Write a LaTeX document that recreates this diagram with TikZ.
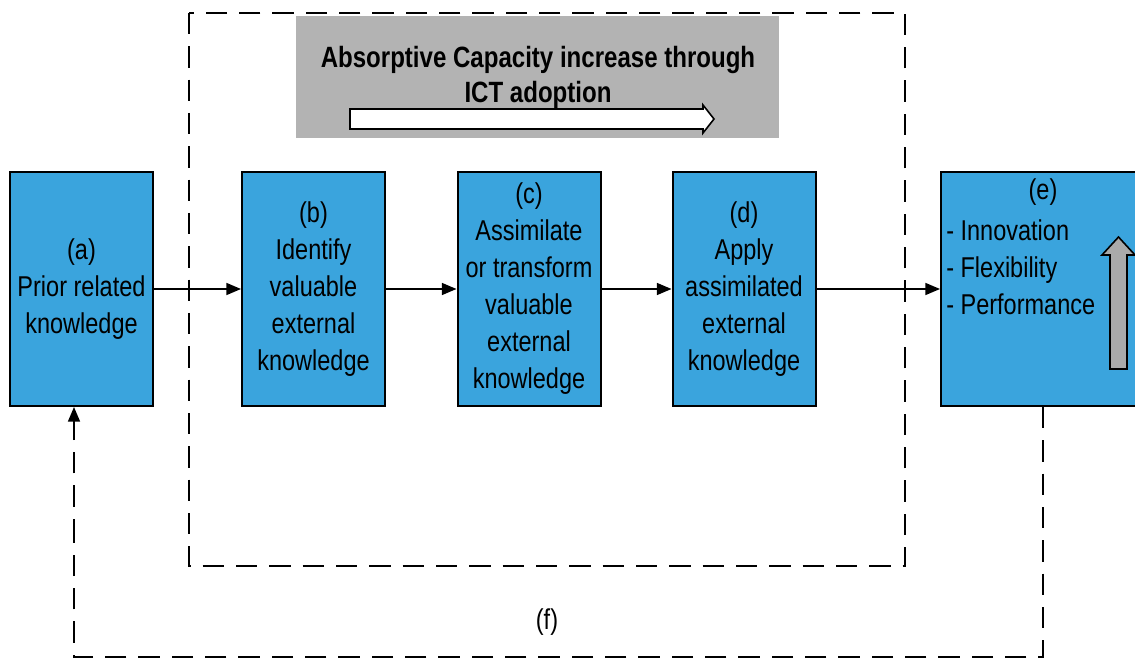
\documentclass[tikz,border=0pt]{standalone}
\usepackage{fontspec}
\setmainfont{Liberation Sans}[FakeStretch=0.82]
\usetikzlibrary{arrows.meta}
\definecolor{boxblue}{RGB}{58,164,221}
\definecolor{bandgray}{RGB}{179,179,179}
\definecolor{arrowgray}{RGB}{170,170,170}
\begin{document}
\begin{tikzpicture}[x=0.75pt,y=-0.75pt,
  stagebox/.style={draw=black, line width=1.5pt, fill=boxblue, minimum width=107.25pt,
    minimum height=175.5pt, inner sep=0pt, align=center,
    font=\fontsize{21.5pt}{27.75pt}\selectfont},
  label text/.style={inner sep=0pt, font=\fontsize{21.5pt}{27.75pt}\selectfont},
  flow/.style={line width=1.2pt, -{Triangle[length=11pt,width=9pt]}},
  frame line/.style={line width=1.5pt, dash pattern=on 16pt off 9pt},
]
\useasboundingbox (0,0) rectangle (1135,659);
\clip (0,0) rectangle (1135,659);

% dashed frame around the absorptive capacity stages
\draw[frame line] (189,13) rectangle (905,566);

% title band with its white progress arrow
\fill[bandgray] (296,16) rectangle (779,138);
\node[label text, font=\bfseries\fontsize{22pt}{26.25pt}\selectfont, align=center] (title) at (538,77)
  {Absorptive Capacity increase through\\ICT adoption};
\draw[line width=1.2pt, fill=white] (350,109) -- (703,109) -- (703,105) -- (714,119)
  -- (703,133) -- (703,129) -- (350,129) -- cycle;

% stages
\node[stagebox] (a) at (81.5,289) {(a)\\Prior related\\knowledge};
\node[stagebox] (b) at (313.5,289) {(b)\\Identify\\valuable\\external\\knowledge};
\node[stagebox] (c) at (529,289) {(c)\\Assimilate\\or transform\\valuable\\external\\knowledge};
\node[stagebox] (d) at (744,289) {(d)\\Apply\\assimilated\\external\\knowledge};
\node[stagebox, minimum width=153pt] (e) at (1043,289) {};
\node[label text] (etag) at (1043,192) {(e)};
\node[label text, anchor=west, align=left] (elist) at (946,267)
  {- Innovation\\- Flexibility\\- Performance};

% rising outcome arrow
\draw[line width=1.2pt, fill=arrowgray] (1110,369) -- (1110,255) -- (1102,255) -- (1118.5,237)
  -- (1135,255) -- (1127,255) -- (1127,369) -- cycle;

% forward flow
\draw[flow] (a) -- (b);
\draw[flow] (b) -- (c);
\draw[flow] (c) -- (d);
\draw[flow] (d) -- (e);

% feedback loop
\coordinate (f1) at (1043,657);
\coordinate (f2) at (74,657);
\draw[frame line] (e.south) -- (f1) -- (f2) -- ++(0,-120);
\draw[line width=1.2pt, dash pattern=on 16pt off 9pt, -{Triangle[length=11pt,width=9pt]}]
  (74,540) -- (f2 |- a.south);
\node[label text] (f) at (547,622) {(f)};
\end{tikzpicture}
\end{document}
